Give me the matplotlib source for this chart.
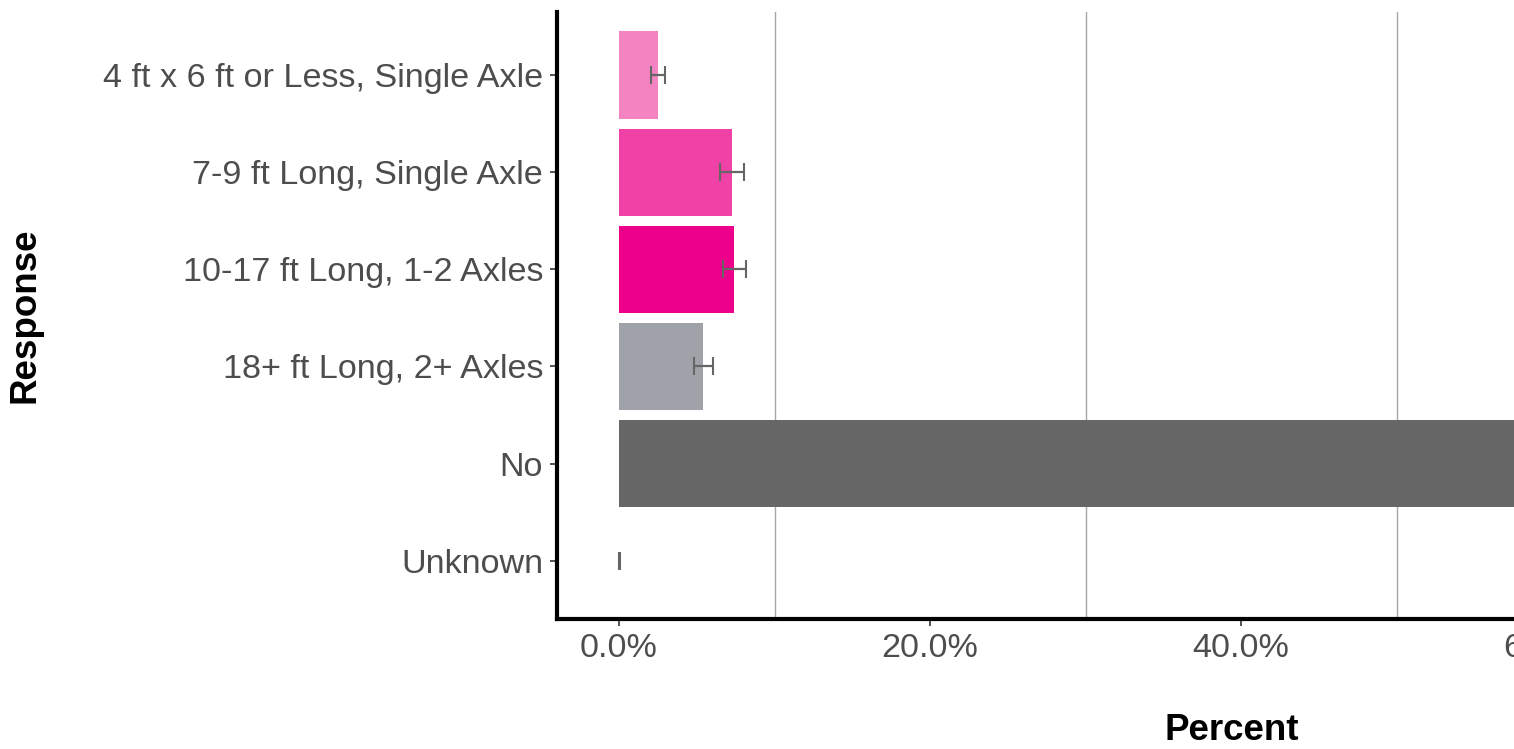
import numpy as np
import matplotlib
matplotlib.use("Agg")
import matplotlib.pyplot as plt
from matplotlib.ticker import PercentFormatter, MultipleLocator

plt.rcParams["font.family"] = ["Liberation Sans", "DejaVu Sans"]

responses = [
    "4 ft x 6 ft or Less, Single Axle",
    "7-9 ft Long, Single Axle",
    "10-17 ft Long, 1-2 Axles",
    "18+ ft Long, 2+ Axles",
    "No",
    "Unknown",
]
percent = [2.5, 7.25, 7.42, 5.42, 78.6, 0.0]
error = [0.45, 0.77, 0.75, 0.62, 1.2, 0.03]
colors = ["#F383C1", "#EF41A6", "#EC008C", "#A0A2A9", "#666666", "#666666"]

fig = plt.figure(figsize=(15.14, 7.49), dpi=100)
# the original plot is wider than the saved image, so the axes run off the right edge
ax = fig.add_axes([557 / 1514, 1 - 619 / 749, 1365 / 1514, 607 / 749])

y = np.arange(len(responses))
ax.barh(y, percent, height=0.9, color=colors, zorder=2)
ax.errorbar(percent, y, xerr=error, fmt="none", ecolor="#666666",
            elinewidth=1.6, capsize=6.8, capthick=1.5, zorder=3)

top = max(p + e for p, e in zip(percent, error))
ax.set_xlim(-0.05 * top, 1.05 * top)
ax.set_ylim(len(responses) - 0.4, -0.65)

ax.set_yticks(y)
ax.set_yticklabels(responses)
ax.xaxis.set_major_locator(MultipleLocator(20))
ax.xaxis.set_major_formatter(PercentFormatter(xmax=100, decimals=1))
for g in [10, 30, 50, 70]:
    ax.axvline(g, color="#A6A6A6", lw=1, zorder=1)

for side in ["top", "right"]:
    ax.spines[side].set_visible(False)
for side in ["left", "bottom"]:
    ax.spines[side].set_linewidth(3)
    ax.spines[side].set_color("black")

ax.tick_params(axis="both", labelsize=24.6, labelcolor="#4D4D4D",
               color="#333333", length=5, width=1.2, pad=5)

ax.set_xlabel("Percent", fontsize=26.5, fontweight="bold", labelpad=40)
ax.set_ylabel("Response", fontsize=26.5, fontweight="bold")
ax.xaxis.set_label_coords(0.494, -0.155)
ax.yaxis.set_label_coords(-0.377, 0.5)

fig.savefig("out.png", dpi=100)
